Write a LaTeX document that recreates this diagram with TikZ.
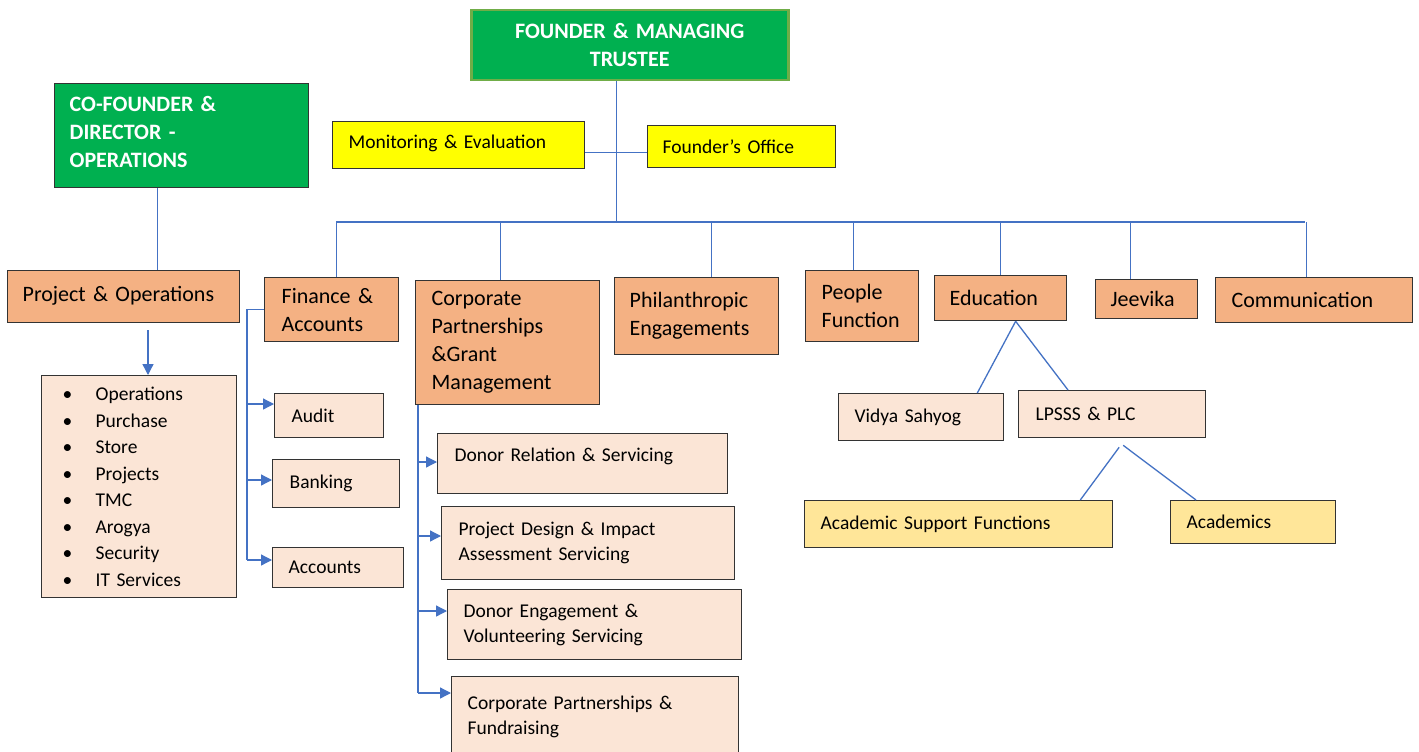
\documentclass[tikz,border=0pt]{standalone}
\usepackage{fontspec}
\setmainfont{Carlito}
\usetikzlibrary{arrows.meta}

\definecolor{ogreen}{HTML}{00B050}
\definecolor{ogreenline}{HTML}{70AD47}
\definecolor{orangebox}{HTML}{F4B183}
\definecolor{peach}{HTML}{FBE5D6}
\definecolor{yellowbox}{HTML}{FFFF00}
\definecolor{goldbox}{HTML}{FFE699}
\definecolor{linkblue}{HTML}{4472C4}
\definecolor{boxedge}{HTML}{333333}

\newcommand{\bigtxt}{\fontsize{22}{28}\selectfont}
\newcommand{\smalltxt}{\fontsize{19.5}{25}\selectfont}
\newcommand{\listtxt}{\fontsize{19.5}{26.5}\selectfont}

\tikzset{
    unitbox/.style={draw=boxedge, line width=1.3pt, anchor=north west, align=left, inner xsep=15pt, inner ysep=0pt},
    headbox/.style={unitbox, fill=ogreen, text=white, font=\bigtxt\bfseries},
    deptbox/.style={unitbox, fill=orangebox, font=\bigtxt},
    subbox/.style={unitbox, fill=peach, font=\smalltxt},
    notebox/.style={unitbox, fill=yellowbox, font=\smalltxt},
    leafbox/.style={unitbox, fill=goldbox, font=\smalltxt},
    link/.style={draw=linkblue, line width=1.3pt},
    arr/.style={link, -{Triangle[length=11pt,width=11pt]}},
}

\begin{document}
\begin{tikzpicture}[x=1pt,y=-1pt]
    \useasboundingbox (0,0) rectangle (1419,752);
    \fill[white] (0,0) rectangle (1419,752);

    % top level
    \node[headbox, draw=ogreenline, line width=2.5pt, align=center, minimum width=317, minimum height=70, text width=287] (ceo) at (470,9) {FOUNDER \& MANAGING\\TRUSTEE};
    \node[headbox, minimum width=254, minimum height=104, text width=224, text depth=64pt] (cof) at (54,83) {CO-FOUNDER \&\\DIRECTOR -\\OPERATIONS};
    \node[notebox, inner xsep=16pt, minimum width=252, minimum height=47, text width=220, text depth=7pt] (me) at (332,121) {Monitoring \& Evaluation};
    \node[notebox, minimum width=188, minimum height=42, text width=158] (fo) at (647,125) {Founder’s Office};

    % departments
    \node[deptbox, minimum width=232, minimum height=52, text width=202, text depth=6pt] (proj) at (7,270) {Project \& Operations};
    \node[deptbox, inner xsep=17pt, minimum width=134, minimum height=64, text width=100] (fin) at (264,277) {Finance \&\\Accounts};
    \node[deptbox, inner xsep=16pt, minimum width=184, minimum height=124, text width=152] (corp) at (415,280) {Corporate\\Partnerships\\\&Grant\\Management};
    \node[deptbox, minimum width=164, minimum height=77, text width=134] (phil) at (614,277) {Philanthropic\\Engagements};
    \node[deptbox, inner xsep=16pt, minimum width=113, minimum height=71, text width=81] (people) at (805,270) {People\\Function};
    \node[deptbox, minimum width=132, minimum height=45, text width=102] (edu) at (934,275) {Education};
    \node[deptbox, minimum width=102, minimum height=39, text width=72] (jeev) at (1095,279) {Jeevika};
    \node[deptbox, inner xsep=16pt, minimum width=197, minimum height=45, text width=165] (comm) at (1215,277) {Communication};

    % operations list
    \node[subbox, font=\listtxt, inner xsep=21pt, minimum width=195, minimum height=222, text width=153] (list) at (41,375)
        {\makebox[33pt][l]{•}Operations\\\makebox[33pt][l]{•}Purchase\\\makebox[33pt][l]{•}Store\\\makebox[33pt][l]{•}Projects\\
         \makebox[33pt][l]{•}TMC\\\makebox[33pt][l]{•}Arogya\\\makebox[33pt][l]{•}Security\\\makebox[33pt][l]{•}IT Services};

    % finance units
    \node[subbox, inner xsep=17pt, minimum width=109, minimum height=44, text width=75] (audit) at (274,393) {Audit};
    \node[subbox, inner xsep=17pt, minimum width=127, minimum height=48, text width=93] (bank) at (272,459) {Banking};
    \node[subbox, inner xsep=16pt, minimum width=131, minimum height=40, text width=99] (acc) at (272,547) {Accounts};

    % corporate units
    \node[subbox, inner xsep=17pt, minimum width=290, minimum height=60, text width=256, text depth=18pt] (dr) at (437,433) {Donor Relation \& Servicing};
    \node[subbox, inner xsep=17pt, minimum width=293, minimum height=73, text width=259] (pd) at (441,506) {Project Design \& Impact\\Assessment Servicing};
    \node[subbox, inner xsep=16pt, minimum width=294, minimum height=70, text width=262] (de) at (447,589) {Donor Engagement \&\\Volunteering Servicing};
    \node[subbox, inner xsep=16pt, minimum width=287, minimum height=80, text width=255] (cpf) at (451,676) {Corporate Partnerships \&\\Fundraising};

    % education units
    \node[subbox, inner xsep=16pt, minimum width=165, minimum height=47, text width=133] (vidya) at (838,393) {Vidya Sahyog};
    \node[subbox, inner xsep=17pt, minimum width=187, minimum height=47, text width=153] (lp) at (1018,390) {LPSSS \& PLC};
    \node[leafbox, inner xsep=16pt, minimum width=308, minimum height=47, text width=276] (asf) at (804,500) {Academic Support Functions};
    \node[leafbox, inner xsep=16pt, minimum width=165, minimum height=43, text width=133] (acad) at (1170,500) {Academics};

    % connectors
    \coordinate (busL) at (336,222);
    \coordinate (busR) at (1305,222);
    \draw[link] (busL) -- (busR);
    \draw[link] ([xshift=-13pt]ceo.south) -- ([xshift=-13pt]ceo.south |- busL);
    \draw[link] ([yshift=-7pt]me.east) -- ([yshift=-7pt]me.east -| fo.west);
    \foreach \n/\dx in {fin/5, corp/-7, phil/15, people/-9, edu/0, jeev/-16, comm/-8} {
        \draw[link] ([xshift=\dx pt]\n.north) -- ([xshift=\dx pt]\n.north |- busL);
    }
    \draw[link] ([xshift=-24pt]cof.south) -- ([xshift=-24pt]cof.south |- proj.north);

    \coordinate (opsTop) at (148,330);
    \draw[arr] (opsTop) -- (opsTop |- list.north);

    \coordinate (fbot) at (247,560);
    \draw[link] (fin.west) -| (fbot);
    \foreach \t/\y in {audit/404, bank/480, acc/560} {
        \coordinate (f\t) at (247,\y);
        \draw[arr] (f\t) -- (f\t -| \t.west);
    }

    \coordinate (ctop) at ([xshift=3pt]corp.south west);
    \foreach \t/\y in {dr/462, pd/536, de/611, cpf/693} {
        \coordinate (c\t) at (ctop |- 0,\y);
        \draw[arr] (c\t) -- (c\t -| \t.west);
    }
    \draw[link] (ctop) -- (ccpf);

    \draw[link] ([xshift=15pt]edu.south) -- ([xshift=-27pt]vidya.north east);
    \draw[link] ([xshift=15pt]edu.south) -- ([xshift=50pt]lp.north west);
    \draw[link] ([xshift=7pt,yshift=-9pt]lp.south) -- ([xshift=-33pt]asf.north east);
    \draw[link] ([xshift=11pt,yshift=-7pt]lp.south) -- ([xshift=26pt]acad.north west);
\end{tikzpicture}
\end{document}
